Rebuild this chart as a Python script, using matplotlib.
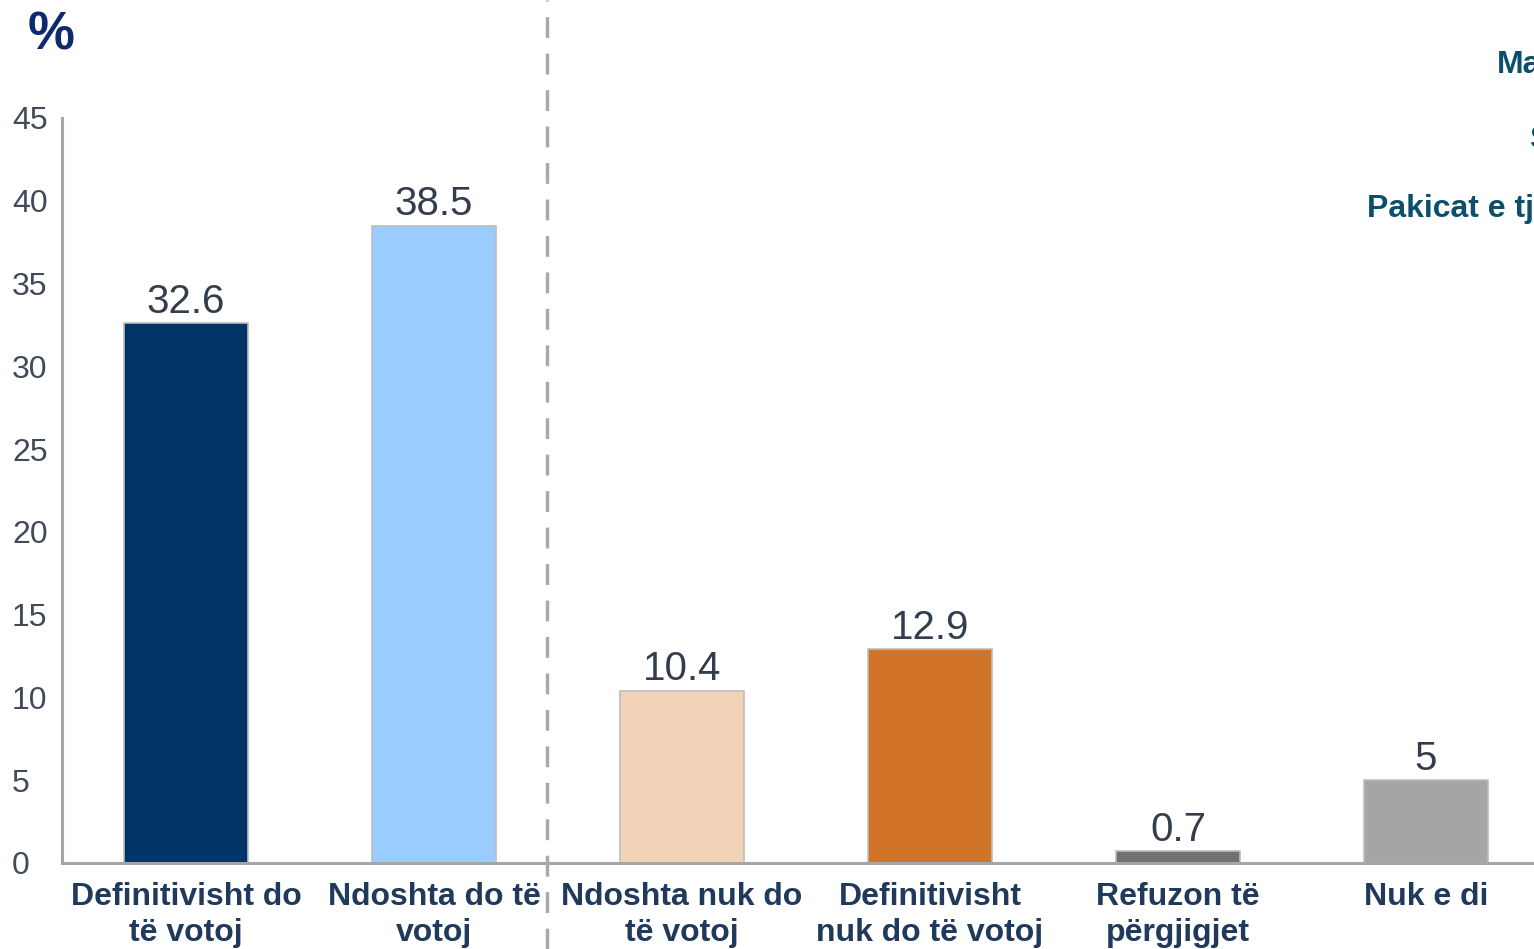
import matplotlib
matplotlib.use("Agg")
import matplotlib.pyplot as plt
from matplotlib.transforms import blended_transform_factory

plt.rcParams['font.family'] = ['Liberation Sans', 'DejaVu Sans']

categories = [
    "Definitivisht do\ntë votoj",
    "Ndoshta do të\nvotoj",
    "Ndoshta nuk do\ntë votoj",
    "Definitivisht\nnuk do të votoj",
    "Refuzon të\npërgjigjet",
    "Nuk e di",
]
values = [32.6, 38.5, 10.4, 12.9, 0.7, 5]
value_labels = ["32.6", "38.5", "10.4", "12.9", "0.7", "5"]
colors = ["#003366", "#99ccff", "#f2d3b8", "#d17428", "#717171", "#a5a5a5"]
yticks = [0, 5, 10, 15, 20, 25, 30, 35, 40, 45]
side_labels = ["Maqedonasit", "Shqiptarët", "Pakicat e tjera"]

W, H = 1534, 949
fig = plt.figure(figsize=(W / 100, H / 100), dpi=100)
ax = fig.add_axes([62 / W, 86 / H, (W - 62) / W, (863 - 118) / H])

x = list(range(len(categories)))
bars = ax.bar(x, values, width=0.5, color=colors, edgecolor="#bdbdbd",
              linewidth=1.2, zorder=2)

for xi, v, lab in zip(x, values, value_labels):
    ax.annotate(lab, (xi, v), xytext=(0, 7.5), textcoords="offset points",
                ha="center", va="baseline", fontsize=29, color="#333d4d")

ax.set_xlim(-0.5, (W - 62) / 248 - 0.5)
ax.set_ylim(0, 45)
ax.set_yticks(yticks)
ax.set_yticklabels([str(t) for t in yticks], fontsize=23, color="#404a5a")
for lab in ax.get_yticklabels():
    lab.set_horizontalalignment("left")
ax.tick_params(axis="y", length=0, pad=36)

ax.set_xticks(x)
ax.set_xticklabels(categories, fontsize=23, fontweight="bold",
                   color="#1f3a5a", linespacing=1.25)
ax.tick_params(axis="x", length=0, pad=14)

for side in ("top", "right"):
    ax.spines[side].set_visible(False)
for side in ("left", "bottom"):
    ax.spines[side].set_color("#a6a6a6")
    ax.spines[side].set_linewidth(2.2)

# Separator between the "will vote" and "won't vote" groups
trans = blended_transform_factory(ax.transData, fig.transFigure)
ax.plot([1.456, 1.456], [0, 1], transform=trans, clip_on=False,
        color="#aaaaaa", linewidth=2.5, linestyle=(0, (6, 4.5)), zorder=3)

fig.text(51 / W, 1 - 36 / H, "%", fontsize=38, fontweight="bold",
         color="#0d2a6e", ha="center", va="center")

side_pos = [(1497, 65), (1529, 140), (1367, 209)]
for (px, py), txt in zip(side_pos, side_labels):
    fig.text(px / W, 1 - py / H, txt, fontsize=23, fontweight="bold",
             color="#0b4f6c", ha="left", va="center")

fig.savefig("out.png", dpi=100)
